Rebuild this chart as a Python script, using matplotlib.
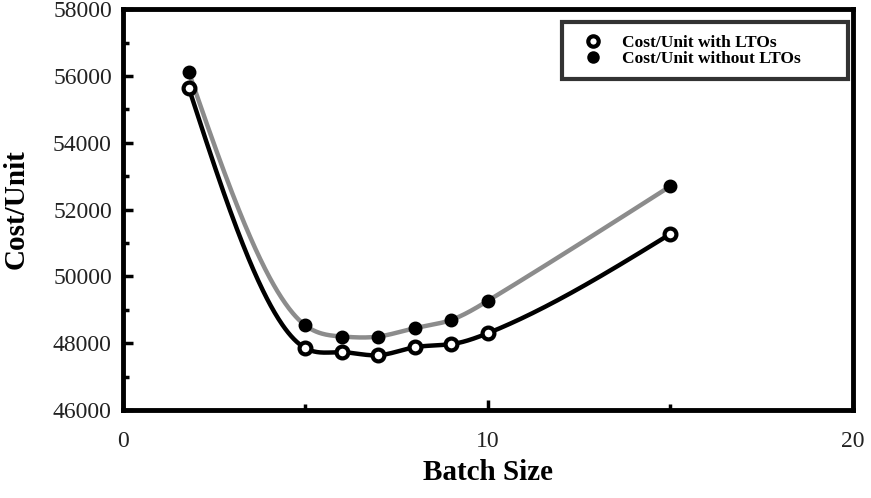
import numpy as np
import matplotlib
matplotlib.use("Agg")
import matplotlib.pyplot as plt
from matplotlib.ticker import MultipleLocator

plt.rcParams['font.family'] = ['Liberation Serif', 'DejaVu Serif']

batch_size = [1.8, 5, 6, 7, 8, 9, 10, 15]
cost_with_lto = [55650, 47850, 47730, 47640, 47880, 47970, 48300, 51270]
cost_without_lto = [56120, 48530, 48200, 48200, 48450, 48700, 49270, 52700]
x_ticks = [0, 10, 20]
y_ticks = [46000, 48000, 50000, 52000, 54000, 56000, 58000]


def natural_spline(x, y, xs):
    x = np.asarray(x, float); y = np.asarray(y, float)
    n = len(x)
    h = np.diff(x)
    A = np.zeros((n, n)); r = np.zeros(n)
    A[0, 0] = 1; A[-1, -1] = 1
    for i in range(1, n - 1):
        A[i, i - 1] = h[i - 1]
        A[i, i] = 2 * (h[i - 1] + h[i])
        A[i, i + 1] = h[i]
        r[i] = 6 * ((y[i + 1] - y[i]) / h[i] - (y[i] - y[i - 1]) / h[i - 1])
    M = np.linalg.solve(A, r)
    idx = np.clip(np.searchsorted(x, xs) - 1, 0, n - 2)
    x0 = x[idx]; x1 = x[idx + 1]; hh = h[idx]
    return (M[idx] * (x1 - xs) ** 3 / (6 * hh) + M[idx + 1] * (xs - x0) ** 3 / (6 * hh)
            + (y[idx] / hh - M[idx] * hh / 6) * (x1 - xs)
            + (y[idx + 1] / hh - M[idx + 1] * hh / 6) * (xs - x0))


fig = plt.figure(figsize=(8.71, 4.98), dpi=100)
# axes: left spine x=123, right x=853, top y=9, bottom y=410 (pixels)
ax = fig.add_axes([0.1412, 0.1767, 0.838, 0.805])

xs = np.linspace(min(batch_size), max(batch_size), 500)
ax.plot(xs, natural_spline(batch_size, cost_without_lto, xs), color='#8c8c8c', lw=3.2, zorder=2)
ax.plot(xs, natural_spline(batch_size, cost_with_lto, xs), color='black', lw=3.2, zorder=2)
ax.plot(batch_size, cost_with_lto, 'o', ms=8.5, mfc='white', mec='black', mew=3,
        ls='none', zorder=3, label='Cost/Unit with LTOs')
ax.plot(batch_size, cost_without_lto, 'o', ms=8.5, mfc='black', mec='black', mew=1.5,
        ls='none', zorder=3, label='Cost/Unit without LTOs')

ax.set_xlim(0, 20)
ax.set_ylim(46000, 58000)
ax.set_xticks(x_ticks)
ax.set_yticks(y_ticks)
ax.xaxis.set_minor_locator(MultipleLocator(5))
ax.yaxis.set_minor_locator(MultipleLocator(1000))
ax.tick_params(axis='both', which='both', direction='in', width=2.5, labelsize=17,
               top=False, right=False, labelcolor='#222222')
ax.tick_params(axis='both', which='major', length=7)
ax.tick_params(axis='x', which='major', pad=15)
ax.tick_params(axis='y', which='major', pad=8)
ax.tick_params(axis='both', which='minor', length=4)
for s in ax.spines.values():
    s.set_linewidth(3.5)

ax.set_xlabel('Batch Size', fontsize=21, fontweight='bold', labelpad=5)
ax.set_ylabel('Cost/Unit', fontsize=21, fontweight='bold', labelpad=17)

leg = ax.legend(loc='upper left', bbox_to_anchor=(0.601, 0.967, 0.392, 0.0), mode='expand',
                prop={'weight': 'bold', 'size': 12.5}, frameon=True, fancybox=False,
                edgecolor='black', borderpad=0.7, handlelength=2.16, handletextpad=0.63,
                labelspacing=0.0, borderaxespad=0)
leg.get_frame().set_linewidth(3)
for h in leg.legend_handles:
    h.set_markersize(7.5)

fig.savefig('out.png', dpi=100)
